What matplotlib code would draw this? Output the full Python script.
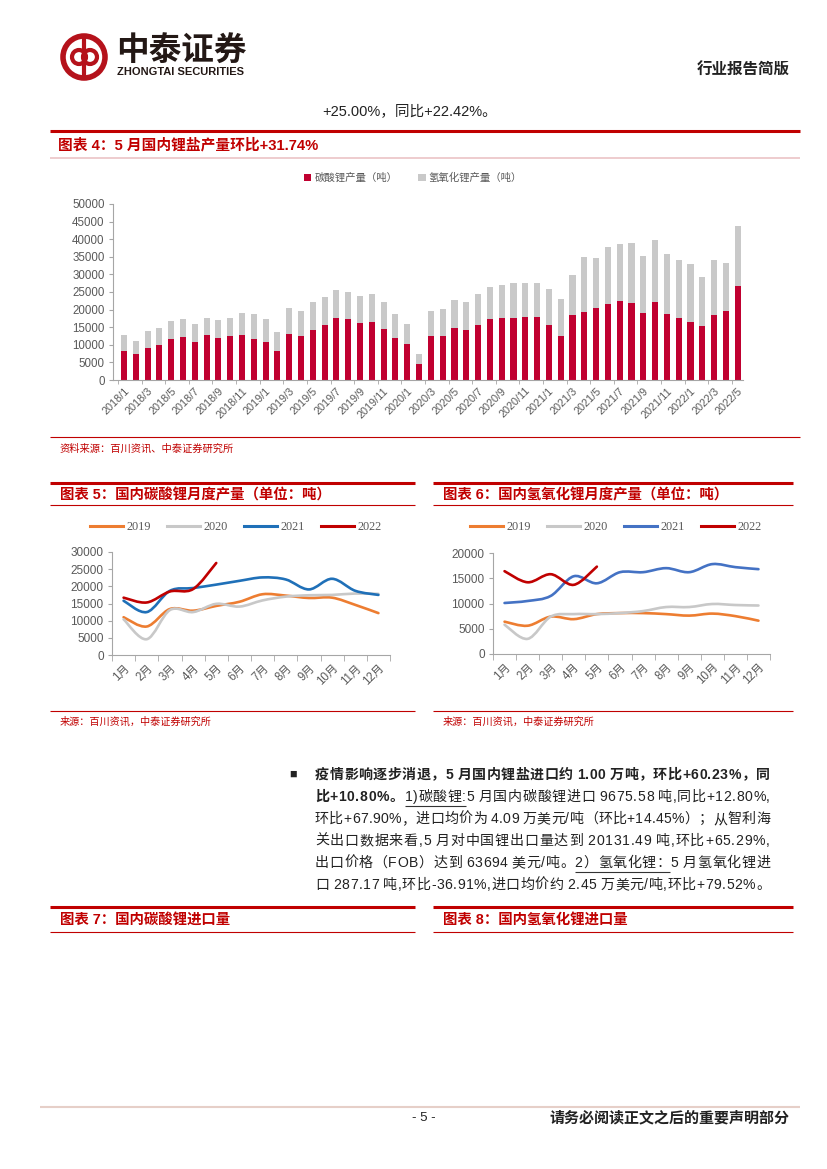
import numpy as np
import matplotlib.pyplot as plt
from matplotlib.patches import Circle, PathPatch
from matplotlib.path import Path
from matplotlib.lines import Line2D

plt.rcParams['font.family'] = ['Liberation Sans', 'Noto Sans CJK SC', 'DejaVu Sans']

# ---- 图表4 数据 (吨) ----
bar_months = [f'{y}/{m}' for y in range(2018, 2023) for m in range(1, 13)][:53]
carbonate = [8200, 7300, 9000, 9900, 11600, 12100, 10900, 12700, 11800, 12400, 12700, 11700,
             10800, 8100, 13200, 12600, 14200, 15600, 17500, 17200, 16300, 16600, 14600, 12000,
             10200, 4500, 12500, 12400, 14700, 14100, 15700, 17200, 17500, 17700, 17800, 17800,
             15600, 12500, 18400, 19400, 20500, 21600, 22500, 21800, 19100, 22100, 18700, 17500,
             16500, 15300, 18400, 19500, 26600]
hydroxide = [4700, 3900, 4800, 4900, 5200, 5100, 5000, 5000, 5300, 5100, 6200, 7100,
             6400, 5600, 7200, 7000, 8100, 8100, 8200, 7900, 7700, 7900, 7700, 6800,
             5700, 3000, 7200, 7900, 8100, 8200, 8700, 9300, 9400, 9900, 9800, 9700,
             10200, 10400, 11500, 15600, 14100, 16200, 16200, 17100, 16200, 17700, 17100, 16700,
             16400, 14000, 15800, 13700, 17200]

# ---- 图表5 / 图表6 数据 ----
month_labels = [f'{m}月' for m in range(1, 13)]
years = ['2019', '2020', '2021', '2022']
carb_2019 = [11000, 8300, 13400, 12900, 14300, 15500, 17700, 17300, 16600, 16700, 14600, 12200]
carb_2020 = [10400, 4600, 13100, 12500, 14900, 14100, 15900, 17000, 17400, 17500, 17900, 17800]
carb_2021 = [15800, 12500, 18700, 19500, 20500, 21600, 22600, 22000, 19100, 22200, 18700, 17500]
carb_2022 = [16700, 15300, 18500, 19200, 26800]
hyd_2019 = [6400, 5600, 7400, 6900, 7900, 8100, 8100, 7900, 7600, 8000, 7500, 6600]
hyd_2020 = [5800, 3000, 7400, 7900, 7900, 8100, 8500, 9300, 9300, 9900, 9700, 9600]
hyd_2021 = [10100, 10500, 11500, 15400, 14000, 16200, 16200, 17000, 16200, 17800, 17200, 16800]
hyd_2022 = [16400, 14200, 15800, 13700, 17300]

RED = '#C00000'
TXT_GRAY = '#595959'
AX_GRAY = '#A6A6A6'
W, H = 827, 1169

fig = plt.figure(figsize=(8.27, 11.69), dpi=100)
bg = fig.add_axes([0, 0, 1, 1])
bg.set_xlim(0, W)
bg.set_ylim(H, 0)
bg.axis('off')


def fax(left, top, right, bottom):
    return fig.add_axes([left / W, 1 - bottom / H, (right - left) / W, (bottom - top) / H])


def hline(x0, x1, y, lw=0.8, color=RED):
    bg.plot([x0, x1], [y, y], color=color, lw=lw, solid_capstyle='butt')


# ---- 页眉 ----
bg.add_patch(Circle((84, 57), 21, fill=False, ec='#B5121B', lw=4))
bg.add_patch(Circle((79, 57), 7, fill=False, ec='#B5121B', lw=3))
bg.add_patch(Circle((90, 57), 7, fill=False, ec='#B5121B', lw=3))
bg.plot([84, 84], [40, 74], color='#B5121B', lw=3)
bg.text(116, 52, '中泰证券', fontsize=23.5, fontweight='bold', color='#231815', va='center', ha='left')
bg.text(117, 72, 'ZHONGTAI SECURITIES', fontsize=8, fontweight='bold', color='#231815', va='center')
bg.text(790, 70, '行业报告简版', fontsize=11.2, fontweight='bold', color='#222222', ha='right', va='center')
bg.text(322, 112, '+25.00%，同比+22.42%。', fontsize=10.5, color='#222222', ha='left', va='center')

# ---- 图表4 ----
hline(50, 800, 131, lw=2.2)
bg.text(58, 145, '图表 4：5 月国内锂盐产量环比+31.74%', fontsize=10.6, fontweight='bold', color=RED, va='center')
hline(50, 800, 158, lw=1.2, color='#EBC4C6')
hline(50, 800, 437, lw=0.8)
bg.text(59, 449, '资料来源：百川资讯、中泰证券研究所', fontsize=7.4, color=RED, va='center')

ax = fax(113, 204, 743, 380)
x = np.arange(len(bar_months))
ax.bar(x, carbonate, width=0.52, color='#C00030', label='碳酸锂产量（吨）')
ax.bar(x, hydroxide, width=0.52, bottom=carbonate, color='#C9C9C9', label='氢氧化锂产量（吨）')
ax.set_xlim(-0.93, 52.45)
ax.set_ylim(0, 50000)
ax.set_yticks(np.arange(0, 50001, 5000))
ax.set_xticks(x[::2])
ax.set_xticklabels(bar_months[::2], rotation=45, ha='right', rotation_mode='anchor')
ax.set_xticks(np.arange(-0.5, 53, 2), minor=True)
ax.tick_params(axis='x', which='major', length=0, labelsize=7.8, labelcolor=TXT_GRAY, pad=4)
ax.tick_params(axis='x', which='minor', length=3, color=AX_GRAY)
ax.tick_params(axis='y', length=3, color=AX_GRAY, labelsize=8.3, labelcolor=TXT_GRAY, pad=3)
for s in ['top', 'right']:
    ax.spines[s].set_visible(False)
for s in ['left', 'bottom']:
    ax.spines[s].set_color(AX_GRAY)
    ax.spines[s].set_linewidth(0.8)
ax.legend(loc='center', bbox_to_anchor=(413 / W, 1 - 178 / H), bbox_transform=fig.transFigure,
          ncol=2, frameon=False, handlelength=0.7, handleheight=0.7, handletextpad=0.3,
          columnspacing=2.0, fontsize=7.5, labelcolor=TXT_GRAY)


# ---- 图表5 / 图表6 ----
def smooth_line(ax, ys, color):
    pts = np.column_stack([np.arange(len(ys)), ys]).astype(float)
    verts = [pts[0]]
    codes = [Path.MOVETO]
    n = len(pts)
    for i in range(n - 1):
        p0 = pts[i - 1] if i > 0 else pts[i]
        p1, p2 = pts[i], pts[i + 1]
        p3 = pts[i + 2] if i + 2 < n else pts[i + 1]
        verts += [p1 + (p2 - p0) / 6, p2 - (p3 - p1) / 6, p2]
        codes += [Path.CURVE4] * 3
    ax.add_patch(PathPatch(Path(verts, codes), fill=False, ec=color, lw=1.9, capstyle='round', joinstyle='round'))


def line_chart(box, series, colors, ymax, ystep, legend_cx):
    ax = fax(*box)
    for ys, c in zip(series, colors):
        smooth_line(ax, ys, c)
    ax.set_xlim(-0.5, 11.5)
    ax.set_ylim(0, ymax)
    ax.set_yticks(np.arange(0, ymax + 1, ystep))
    ax.set_xticks(np.arange(12))
    ax.set_xticklabels(month_labels, rotation=45, ha='right', rotation_mode='anchor')
    ax.set_xticks(np.arange(-0.5, 12, 1), minor=True)
    ax.tick_params(axis='x', which='major', length=0, labelsize=8.3, labelcolor=TXT_GRAY, pad=5)
    ax.tick_params(axis='x', which='minor', length=4, color=AX_GRAY)
    ax.tick_params(axis='y', length=3, color=AX_GRAY, labelsize=8.5, labelcolor=TXT_GRAY, pad=3)
    for s in ['top', 'right']:
        ax.spines[s].set_visible(False)
    for s in ['left', 'bottom']:
        ax.spines[s].set_color(AX_GRAY)
        ax.spines[s].set_linewidth(0.8)
    handles = [Line2D([], [], color=c, lw=2.2) for c in colors]
    ax.legend(handles, years, loc='center', bbox_to_anchor=(legend_cx / W, 1 - 527 / H),
              bbox_transform=fig.transFigure, ncol=4, frameon=False, handlelength=2.7,
              handletextpad=0.3, columnspacing=1.3,
              prop={'family': 'Liberation Serif', 'size': 8.8}, labelcolor=TXT_GRAY)
    return ax


for x0, x1, title in [(50, 415, '图表 5：国内碳酸锂月度产量（单位：吨）'),
                      (433, 793, '图表 6：国内氢氧化锂月度产量（单位：吨）')]:
    hline(x0, x1, 483, lw=2.2)
    bg.text(x0 + 10, 495, title, fontsize=10.4, fontweight='bold', color=RED, va='center')
    hline(x0, x1, 505, lw=0.8)
    hline(x0, x1, 711, lw=0.8)
    bg.text(x0 + 10, 722, '来源：百川资讯，中泰证券研究所', fontsize=7.3, color=RED, va='center')

line_chart((112, 552, 390, 655), [carb_2019, carb_2020, carb_2021, carb_2022],
           ['#ED7D31', '#C8C8C8', '#1F70B8', '#C00000'], 30000, 5000, 236)
line_chart((493, 553, 770, 654), [hyd_2019, hyd_2020, hyd_2021, hyd_2022],
           ['#ED7D31', '#C8C8C8', '#4472C4', '#C00000'], 20000, 5000, 616)

# ---- 正文段落 (两端对齐) ----
renderer = fig.canvas.get_renderer()
FS = 10.1


def char_width(ch, bold):
    t = bg.text(0, 0, ch, fontsize=FS, fontweight='bold' if bold else 'normal')
    w = t.get_window_extent(renderer).width
    t.remove()
    return w


def draw_para_line(segments, x0, x1, y):
    chars = []
    for s, bold, ul in segments:
        for ch in s:
            chars.append((ch, bold, ul))
    widths = [char_width(ch, b) if ch != ' ' else FS * 0.3 for ch, b, u in chars]
    gap = (x1 - x0 - sum(widths)) / (len(chars) - 1)
    xc = x0
    ul_start = None
    for (ch, bold, ul), w in zip(chars, widths):
        if ul and ul_start is None:
            ul_start = xc
        if not ul and ul_start is not None:
            hline(ul_start, xc - gap, y + 9, lw=0.8, color='#333333')
            ul_start = None
        bg.text(xc, y, ch, fontsize=FS, fontweight='bold' if bold else 'normal',
                color='#222222', va='center', ha='left')
        xc += w + gap
    if ul_start is not None:
        hline(ul_start, xc - gap, y + 9, lw=0.8, color='#333333')


bg.text(289, 775, '■', fontsize=9, color='#222222', va='center', ha='left')
para = [
    [('疫情影响逐步消退，5 月国内锂盐进口约 1.00 万吨，环比+60.23%，同', True, False)],
    [('比+10.80%。', True, False), ('1)碳酸锂:', False, True),
     ('5 月国内碳酸锂进口 9675.58 吨,同比+12.80%,', False, False)],
    [('环比+67.90%，进口均价为 4.09 万美元/吨（环比+14.45%）；从智利海', False, False)],
    [('关出口数据来看,5 月对中国锂出口量达到 20131.49 吨,环比+65.29%,', False, False)],
    [('出口价格（FOB）达到 63694 美元/吨。', False, False), ('2）氢氧化锂：', False, True),
     ('5 月氢氧化锂进', False, False)],
    [('口 287.17 吨,环比-36.91%,进口均价约 2.45 万美元/吨,环比+79.52%。', False, False)],
]
for i, segs in enumerate(para):
    draw_para_line(segs, 315, 770, 775 + 22 * i)

# ---- 图表7 / 图表8 ----
for x0, x1, title in [(50, 415, '图表 7：国内碳酸锂进口量'), (433, 793, '图表 8：国内氢氧化锂进口量')]:
    hline(x0, x1, 907, lw=2.2)
    bg.text(x0 + 10, 920, title, fontsize=10.4, fontweight='bold', color=RED, va='center')
    hline(x0, x1, 932, lw=0.8)

# ---- 页脚 ----
hline(40, 800, 1107, lw=1.5, color='#E6CFC8')
bg.text(424, 1118, '- 5 -', fontsize=9.5, color='#222222', ha='center', va='center')
bg.text(789, 1118, '请务必阅读正文之后的重要声明部分', fontsize=10.8, fontweight='bold',
        color='#222222', ha='right', va='center')

fig.savefig('out.png', dpi=100)
